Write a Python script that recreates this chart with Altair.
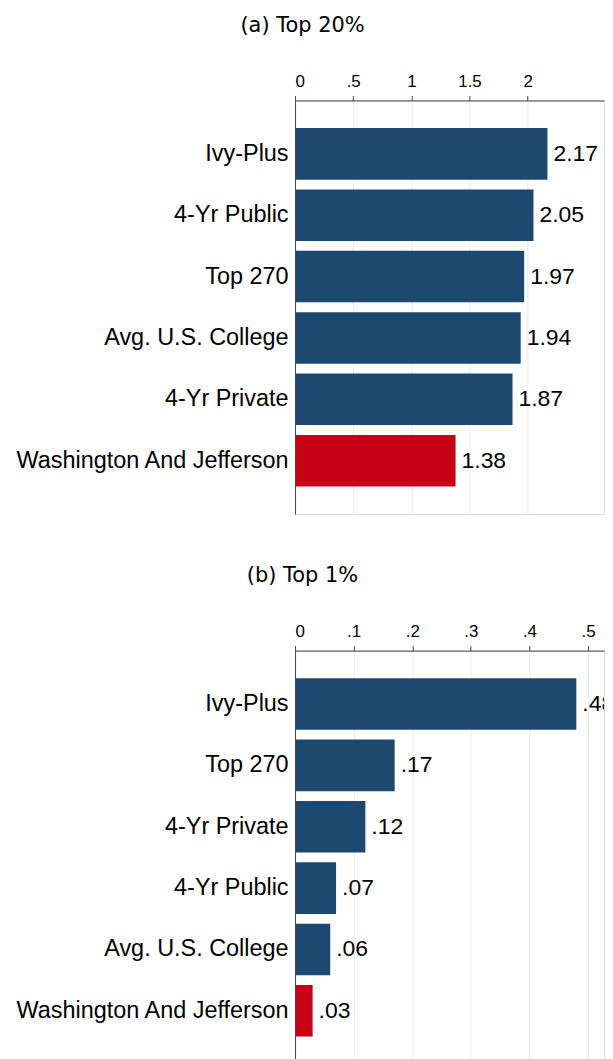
import altair as alt
import pandas as pd

# ---- data ----
cats_a = ["Ivy-Plus", "4-Yr Public", "Top 270", "Avg. U.S. College", "4-Yr Private", "Washington And Jefferson"]
vals_a = [2.17, 2.05, 1.97, 1.94, 1.87, 1.38]
cats_b = ["Ivy-Plus", "Top 270", "4-Yr Private", "4-Yr Public", "Avg. U.S. College", "Washington And Jefferson"]
vals_b = [0.48, 0.17, 0.12, 0.07, 0.06, 0.03]
ticks_a = [0, 0.5, 1, 1.5, 2]
ticks_b = [0, 0.1, 0.2, 0.3, 0.4, 0.5]
title_a = "(a) Top 20%"
title_b = "(b) Top 1%"
highlight = "Washington And Jefferson"

NAVY = "#1d4870"
RED = "#c80016"
GRID = "#e3edf0"
LABEL_FONT = "Liberation Sans"
TITLE_FONT = "DejaVu Sans"
PLOT_W = 310


def fmt(v):
    s = f"{v:.2f}"
    return s[1:] if s.startswith("0.") else s


def panel(cats, vals, ticks, xmax, title):
    df = pd.DataFrame({"college": cats, "value": vals})
    df["label"] = [fmt(v) for v in vals]
    x = alt.X(
        "value:Q",
        scale=alt.Scale(domain=[0, xmax], nice=False, zero=True),
        axis=alt.Axis(
            orient="top",
            values=ticks,
            title=None,
            labelExpr="datum.value > 0 && datum.value < 1 ? replace(format(datum.value, '~g'), '0.', '.') : format(datum.value, '~g')",
            labelFont=LABEL_FONT,
            labelFontSize=17,
            labelColor="black",
            labelPadding=5,
            tickSize=5,
            tickColor="#444444",
            domainColor="#444444",
            grid=True,
            gridColor=GRID,
            gridWidth=1,
            minExtent=25,
            maxExtent=25,
        ),
    )
    y = alt.Y(
        "college:N",
        sort=cats,
        scale=alt.Scale(paddingInner=0.16, paddingOuter=0.45),
        axis=alt.Axis(
            title=None,
            ticks=False,
            labelFont=LABEL_FONT,
            labelFontSize=23.5,
            labelColor="black",
            labelPadding=7,
            domainColor="#444444",
            minExtent=287,
            maxExtent=287,
            labelLimit=400,
            zindex=1,
        ),
    )
    base = alt.Chart(df)
    bars = base.mark_bar(clip=True).encode(
        x=x,
        y=y,
        color=alt.condition(alt.datum.college == highlight, alt.value(RED), alt.value(NAVY)),
    )
    text = base.mark_text(align="left", baseline="middle", dx=6, fontSize=23, font=LABEL_FONT,
                          color="black", clip=True).encode(
        x="value:Q", y=alt.Y("college:N", sort=cats), text="label:N"
    )
    return (bars + text).properties(
        width=PLOT_W,
        height=415,
        title=alt.TitleParams(
            title,
            font=TITLE_FONT,
            fontSize=21,
            fontWeight="normal",
            color="black",
            anchor="middle",
            frame="bounds",
            dx=-4,
            offset=37,
        ),
    )


top = panel(cats_a, vals_a, ticks_a, PLOT_W / 116.7, title_a)
bottom = panel(cats_b, vals_b, ticks_b, PLOT_W / 588.0, title_b)

chart = (
    alt.vconcat(top, bottom, spacing=49)
    .properties(padding={"left": 0, "top": 4, "right": 0, "bottom": 0})
    .configure_view(stroke=None)
    .configure(background="white")
)

chart.save("out.html", embed_options={"renderer": "svg", "actions": False})
